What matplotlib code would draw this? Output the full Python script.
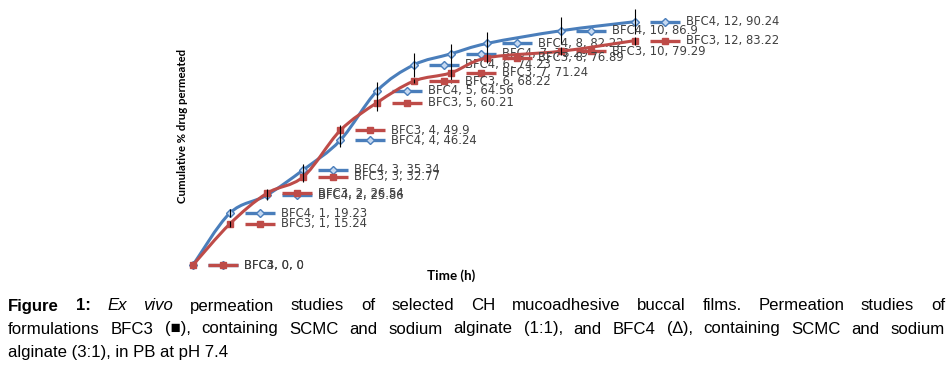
import matplotlib
matplotlib.use('Agg')
import matplotlib.pyplot as plt
import numpy as np
from matplotlib.path import Path
from matplotlib.patches import PathPatch
from matplotlib.transforms import offset_copy

# --------- DATA -----------
time_h = [0, 1, 2, 3, 4, 5, 6, 7, 8, 10, 12]
bfc3 = [0, 15.24, 26.54, 32.77, 49.9, 60.21, 68.22, 71.24, 76.89, 79.29, 83.22]
bfc4 = [0, 19.23, 25.86, 35.34, 46.24, 64.56, 74.23, 78.29, 82.22, 86.9, 90.24]
bfc3_err = [0, 1.0, 1.5, 2.0, 1.9, 3.0, 0.8, 3.7, 2.0, 1.5, 1.5]
bfc4_err = [0, 1.5, 1.7, 2.2, 2.6, 3.3, 4.4, 3.7, 4.1, 5.0, 4.6]

caption_1 = [("Figure", "bold"), ("1:", "bold"), ("Ex", "italic"), ("vivo", "italic"),
             ("permeation", ""), ("studies", ""), ("of", ""), ("selected", ""), ("CH", ""),
             ("mucoadhesive", ""), ("buccal", ""), ("films.", ""), ("Permeation", ""),
             ("studies", ""), ("of", "")]
caption_2 = ("formulations BFC3 (\u25a0), containing SCMC and sodium alginate (1:1), "
             "and BFC4 (\u2206), containing SCMC and sodium")
caption_3 = "alginate (3:1), in PB at pH 7.4"

BLUE = '#4A7EBB'
RED = '#BE4B48'
W, H = 953, 370


def smooth_path(x, y):
    """Excel-like smoothed line: Catmull-Rom segments as cubic Beziers"""
    pts = np.column_stack([x, y]).astype(float)
    n = len(pts)
    verts = [pts[0]]
    codes = [Path.MOVETO]
    for i in range(n - 1):
        p0 = pts[max(i - 1, 0)]
        p1 = pts[i]
        p2 = pts[i + 1]
        p3 = pts[min(i + 2, n - 1)]
        verts += [p1 + (p2 - p0) / 6, p2 - (p3 - p1) / 6, p2]
        codes += [Path.CURVE4] * 3
    return Path(verts, codes)


def draw_series(ax, fig, values, errs, name, color, marker, mfc, z):
    ax.add_patch(PathPatch(smooth_path(time_h, values), fill=False, edgecolor=color,
                           lw=2.2, zorder=z, capstyle='round', joinstyle='round'))
    ax.errorbar(time_h, values, yerr=errs, fmt='none', ecolor='black', elinewidth=0.8,
                capsize=0, zorder=z + 3)
    ax.plot(time_h, values, ls='none', marker=marker, ms=4.3, mfc=mfc, mec=color,
            mew=1.0, zorder=z + 1)

    # data labels with legend key, placed right of each point
    key_tr = offset_copy(ax.transData, fig=fig, x=30, y=0, units='dots')
    ax.plot(time_h, values, ls='none', marker='_', ms=30 * 0.72, mew=2.4, color=color,
            transform=key_tr, zorder=z + 4)
    ax.plot(time_h, values, ls='none', marker=marker, ms=4.3, mfc=mfc, mec=color,
            mew=1.0, transform=key_tr, zorder=z + 5)
    for x, y in zip(time_h, values):
        ax.annotate('%s, %g, %g' % (name, x, y), (x, y), xytext=(51, 0),
                    textcoords='offset pixels', va='center', ha='left',
                    fontsize=8.4, color='#404040', zorder=z + 6)


def justify_words(fig, renderer, words, y_px, x0_px, x1_px, size, family):
    texts = []
    for w, style in words:
        t = fig.text(0, 1 - y_px / H, w, fontsize=size, family=family,
                     fontweight='bold' if style == 'bold' else 'normal',
                     fontstyle='italic' if style == 'italic' else 'normal',
                     va='center', ha='left')
        texts.append(t)
    widths = [t.get_window_extent(renderer).width for t in texts]
    gap = (x1_px - x0_px - sum(widths)) / (len(texts) - 1)
    x = x0_px
    for t, w in zip(texts, widths):
        t.set_x(x / W)
        x += w + gap


# --------- MAIN -----------
def main():
    fig = plt.figure(figsize=(W / 100, H / 100), dpi=100)
    ax = fig.add_axes([170 / W, 1 - 290 / H, 575 / W, 290 / H])
    ax.set_xlim(-0.625, 15.0)
    ax.set_ylim(-9.27, 98.3)
    ax.axis('off')

    draw_series(ax, fig, bfc4, bfc4_err, 'BFC4', BLUE, 'D', '#C6D9F1', 2)
    draw_series(ax, fig, bfc3, bfc3_err, 'BFC3', RED, 's', RED, 10)

    fig.text(183 / W, 1 - 126 / H, 'Cumulative % drug permeated', rotation=90,
             ha='center', va='center', fontsize=8.2, fontweight='bold', family='Lato')
    fig.text(451 / W, 1 - 276 / H, 'Time (h)', ha='center', va='center',
             fontsize=9.6, fontweight='bold', family='Lato')

    cap_font = ['Liberation Sans', 'DejaVu Sans']
    renderer = fig.canvas.get_renderer()
    justify_words(fig, renderer, caption_1, 306, 8, 945, 12.1, cap_font)
    words_2 = [(w, '') for w in caption_2.split(' ')]
    justify_words(fig, renderer, words_2, 329, 8, 945, 12.1, cap_font)
    fig.text(8 / W, 1 - 352 / H, caption_3, fontsize=12.1, family=cap_font,
             va='center', ha='left')

    fig.savefig('out.png', dpi=100)


if __name__ == '__main__':
    main()
